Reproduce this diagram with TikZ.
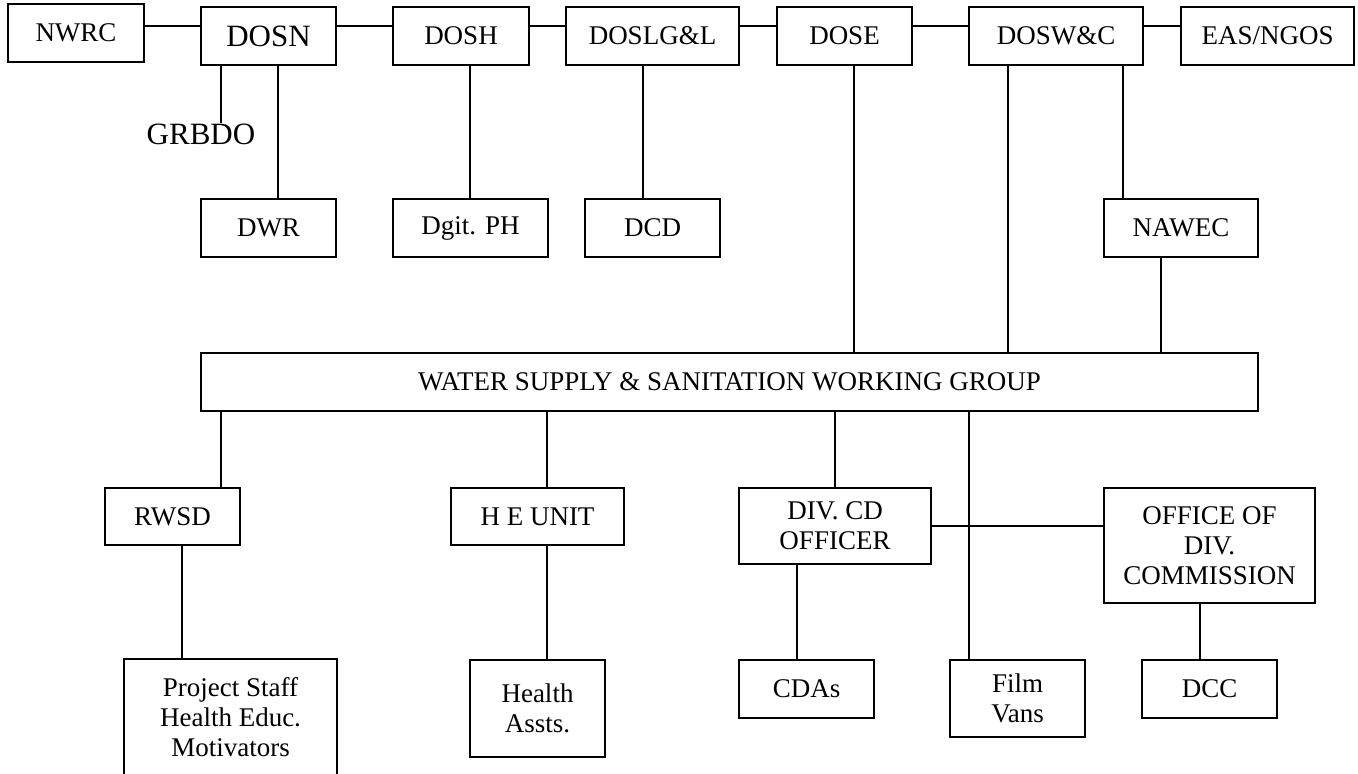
\documentclass[tikz,border=0pt]{standalone}
\usepackage{fontspec}
\setmainfont{Liberation Serif}
\begin{document}
\begin{tikzpicture}[x=0.5pt,y=-0.5pt,
  box/.style={draw, line width=0.9pt, inner sep=0pt, align=center, font=\fontsize{13.5}{15}\selectfont},
  bigbox/.style={box, font=\fontsize{15.5}{18}\selectfont},
  plain/.style={inner sep=0pt, font=\fontsize{15.5}{18}\selectfont},
  link/.style={line width=0.9pt}]
\useasboundingbox (0,0) rectangle (1358,774);
% top row
\node[box, minimum width=68pt, minimum height=29pt] (nwrc) at (76,33) {NWRC};
\node[bigbox, minimum width=67.5pt, minimum height=29pt] (dosn) at (268.5,36) {DOSN};
\node[box, minimum width=68pt, minimum height=29pt] (dosh) at (461,36) {DOSH};
\node[box, minimum width=86.5pt, minimum height=29pt] (doslgl) at (652.5,36) {DOSLG\&L};
\node[box, minimum width=67.5pt, minimum height=29pt] (dose) at (844.5,36) {DOSE};
\node[box, minimum width=87pt, minimum height=29pt] (doswc) at (1056,36) {DOSW\&C};
\node[box, minimum width=86.5pt, minimum height=29pt] (eas) at (1267.5,36) {EAS/NGOS};
\node[plain] (grbdo) at (201,134) {GRBDO};
% second row
\node[box, minimum width=67.5pt, minimum height=29pt] (dwr) at (268.5,228) {DWR};
\node[box, minimum width=77.5pt, minimum height=29pt] (dgit) at (470.5,228) {Dgit. PH};
\node[box, minimum width=67.5pt, minimum height=29pt] (dcd) at (652.5,228) {DCD};
\node[box, minimum width=77pt, minimum height=29pt] (nawec) at (1181,228) {NAWEC};
\node[box, minimum width=528.5pt, minimum height=29pt] (water) at (729.5,382) {WATER SUPPLY \& SANITATION WORKING GROUP};
% third row
\node[box, minimum width=67.5pt, minimum height=28.5pt] (rwsd) at (172.5,516.5) {RWSD};
\node[box, minimum width=86.5pt, minimum height=28.5pt] (heunit) at (537.5,516.5) {H E UNIT};
\node[box, minimum width=96pt, minimum height=38pt] (divcd) at (835,526) {DIV. CD\\OFFICER};
\node[box, minimum width=105.5pt, minimum height=57.5pt] (office) at (1209.5,545.5) {OFFICE OF\\DIV.\\COMMISSION};
% bottom row
\node[box, draw=none, minimum width=105.5pt, minimum height=57pt] (project) at (230.5,717) {Project Staff\\Health Educ.\\Motivators};
\draw[link] (project.south west) -- (project.north west) -- (project.north east) -- (project.south east);
\node[box, minimum width=67.5pt, minimum height=48.5pt] (health) at (537.5,708.5) {Health\\Assts.};
\node[box, minimum width=67.5pt, minimum height=29pt] (cdas) at (806.5,689) {CDAs};
\node[box, minimum width=67.5pt, minimum height=38.5pt] (film) at (1017.5,698.5) {Film\\Vans};
\node[box, minimum width=67.5pt, minimum height=29pt] (dcc) at (1209.5,689) {DCC};
% top row links
\draw[link] (nwrc.east |- 0,26) -- (dosn.west |- 0,26);
\draw[link] (dosn.east |- 0,26) -- (dosh.west |- 0,26);
\draw[link] (dosh.east |- 0,26) -- (doslgl.west |- 0,26);
\draw[link] (doslgl.east |- 0,26) -- (dose.west |- 0,26);
\draw[link] (dose.east |- 0,26) -- (doswc.west |- 0,26);
\draw[link] (doswc.east |- 0,26) -- (eas.west |- 0,26);
% verticals from top row
\draw[link] (dosn.south -| 221,0) -- (grbdo.north -| 221,0);
\draw[link] (dosn.south -| 278,0) -- (dwr.north -| 278,0);
\draw[link] (dosh.south -| 470,0) -- (dgit.north -| 470,0);
\draw[link] (doslgl.south -| 643,0) -- (dcd.north -| 643,0);
\draw[link] (dose.south -| 854,0) -- (water.north -| 854,0);
\draw[link] (doswc.south -| 1008,0) -- (water.north -| 1008,0);
\draw[link] (doswc.south -| 1123,0) -- (nawec.north -| 1123,0);
\draw[link] (nawec.south -| 1161,0) -- (water.north -| 1161,0);
% from working group
\draw[link] (water.south -| 221,0) -- (rwsd.north -| 221,0);
\draw[link] (water.south -| 547,0) -- (heunit.north -| 547,0);
\draw[link] (water.south -| 835,0) -- (divcd.north -| 835,0);
\draw[link] (water.south -| 969,0) -- (film.north -| 969,0);
\draw[link] (divcd.east |- 0,526) -- (office.west |- 0,526);
% lower links
\draw[link] (rwsd.south -| 182,0) -- (project.north -| 182,0);
\draw[link] (heunit.south -| 547,0) -- (health.north -| 547,0);
\draw[link] (divcd.south -| 797,0) -- (cdas.north -| 797,0);
\draw[link] (office.south -| 1200,0) -- (dcc.north -| 1200,0);
\end{tikzpicture}
\end{document}
